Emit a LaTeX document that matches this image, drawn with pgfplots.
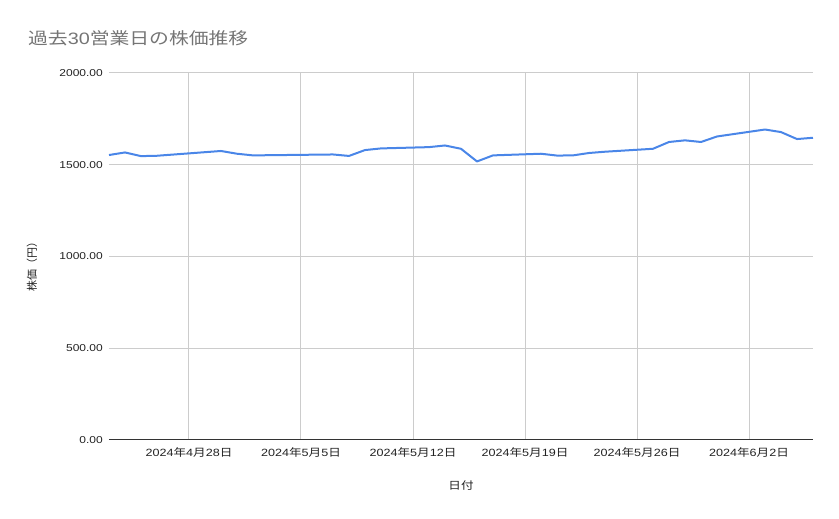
\documentclass[border=0pt]{standalone}
\usepackage{pgfplots}
\usepackage{pgfplotstable}
\pgfplotsset{compat=1.18}
\usepackage{fontspec}
\setmainfont{Liberation Sans}[FakeStretch=1.2]
\newfontfamily\cjk{Noto Sans CJK JP}[FakeStretch=1.2]
\newfontfamily\cjkr{Noto Sans CJK JP}

\definecolor{linecol}{HTML}{4A86E8}
\definecolor{gridcol}{HTML}{CCCCCC}
\definecolor{titlecol}{HTML}{757575}
\definecolor{labelcol}{HTML}{222222}

% x = days since 2024-04-23 (business days only)
\pgfplotstableread{
d price
0 1553
1 1567
2 1547
3 1549
7 1575
8 1560
9 1551
14 1556
15 1548
16 1580
17 1589
20 1596
21 1605
22 1587
23 1518
24 1551
27 1560
28 1550
29 1551
30 1564
31 1571
34 1587
35 1624
36 1633
37 1624
38 1654
41 1692
42 1678
43 1640
44 1647
}\prices

\newcommand\dt[2]{2024{\cjk 年}#1{\cjk 月}#2{\cjk 日}}

\begin{document}
\begin{tikzpicture}
\useasboundingbox (-109pt,-79pt) rectangle (730pt,440pt);
\begin{axis}[
    at={(0,0)}, anchor=south west,
    scale only axis,
    width=704pt, height=367pt,
    xmin=0, xmax=44, ymin=0, ymax=2000,
    enlargelimits=false,
    clip=false,
    axis line style={draw=none},
    major tick length=0pt,
    xmajorgrids=true, ymajorgrids=true,
    grid style={gridcol, line width=1pt},
    xtick={5,12,19,26,33,40},
    xticklabels={\dt{4}{28},\dt{5}{5},\dt{5}{12},\dt{5}{19},\dt{5}{26},\dt{6}{2}},
    ytick={0,500,1000,1500,2000},
    extra y ticks={0},
    extra y tick labels={},
    extra y tick style={grid style={black!80, line width=1pt}},
    /pgf/number format/.cd, fixed, fixed zerofill, precision=2, 1000 sep={}, assume math mode=true,
    /pgfplots/.cd,
    yticklabel style={font=\fontsize{10}{12}\selectfont, text=labelcol, anchor=east, inner sep=0pt, xshift=-6pt},
    xticklabel style={font=\fontsize{10.5}{12}\selectfont, text=labelcol, anchor=base, inner sep=0pt, yshift=-17pt},
]
\addplot[linecol, line width=2pt, line join=round, mark=none] table[x=d, y=price] {\prices};
\end{axis}
\node[anchor=west, inner sep=0pt, text=titlecol, font=\fontsize{16.5}{19}\selectfont] at (-81pt,401.5pt) {{\cjk 過去}30{\cjk 営業日の株価推移}};
\node[rotate=90, inner sep=0pt, text=labelcol, font=\fontsize{11}{12}\selectfont\cjkr] at (-77pt,176pt) {株価（円）};
\node[inner sep=0pt, text=labelcol, font=\fontsize{10.5}{12}\selectfont\cjk] at (352pt,-46pt) {日付};
\end{tikzpicture}
\end{document}
